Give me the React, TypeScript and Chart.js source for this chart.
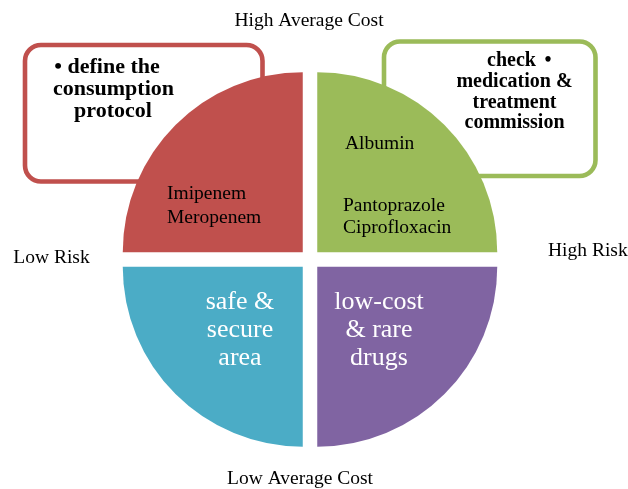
import React, { useEffect, useRef } from "react";
import { Chart, registerables } from "chart.js";

Chart.register(...registerables);

// ---- data ----
const quadrantNames = [
  "High Average Cost / High Risk",
  "Low Average Cost / High Risk",
  "Low Average Cost / Low Risk",
  "High Average Cost / Low Risk",
];
const quadrantValues = [1, 1, 1, 1];
const quadrantColors = ["#9BBB59", "#8064A2", "#4BACC6", "#C0504D"];

const axisTop = "High Average Cost";
const axisBottom = "Low Average Cost";
const axisLeft = "Low Risk";
const axisRight = "High Risk";

const redBoxLines = ["• define the", "consumption", "protocol"];
const greenBoxLines = ["medication &", "treatment", "commission"];
const greenBoxFirstWord = "check";
const topLeftItems = ["Imipenem", "Meropenem"];
const topRightFirst = ["Albumin"];
const topRightItems = ["Pantoprazole", "Ciprofloxacin"];
const bottomLeftLines = ["safe &", "secure", "area"];
const bottomRightLines = ["low-cost", "& rare", "drugs"];

const SERIF = '"Liberation Serif", "Times New Roman", Times, serif';

function roundRect(ctx: CanvasRenderingContext2D, x: number, y: number, w: number, h: number, r: number) {
  ctx.beginPath();
  ctx.moveTo(x + r, y);
  ctx.lineTo(x + w - r, y);
  ctx.arcTo(x + w, y, x + w, y + r, r);
  ctx.lineTo(x + w, y + h - r);
  ctx.arcTo(x + w, y + h, x + w - r, y + h, r);
  ctx.lineTo(x + r, y + h);
  ctx.arcTo(x, y + h, x, y + h - r, r);
  ctx.lineTo(x, y + r);
  ctx.arcTo(x, y, x + r, y, r);
  ctx.closePath();
}

const boxesPlugin = {
  id: "boxes",
  beforeDatasetsDraw(chart: any) {
    const ctx = chart.ctx as CanvasRenderingContext2D;
    const arc = chart.getDatasetMeta(0).data[0];
    const cx = arc.x, cy = arc.y;
    ctx.save();
    ctx.lineWidth = 4.6;
    // red box (top-left)
    ctx.strokeStyle = quadrantColors[3];
    ctx.fillStyle = "#ffffff";
    roundRect(ctx, cx - 285, cy - 214.5, 237.5, 136.5, 16);
    ctx.fill();
    ctx.stroke();
    // green box (top-right)
    ctx.strokeStyle = quadrantColors[0];
    roundRect(ctx, cx + 74, cy - 218, 211.5, 134.5, 16);
    ctx.fill();
    ctx.stroke();
    ctx.restore();
  },
};

const textPlugin = {
  id: "texts",
  afterDatasetsDraw(chart: any) {
    const ctx = chart.ctx as CanvasRenderingContext2D;
    const arc = chart.getDatasetMeta(0).data[0];
    const cx = arc.x, cy = arc.y;
    ctx.save();
    ctx.textBaseline = "alphabetic";

    // axis labels
    ctx.fillStyle = "#000000";
    ctx.font = `19.5px ${SERIF}`;
    ctx.textAlign = "center";
    ctx.fillText(axisTop, cx - 1, cy - 233.5);
    ctx.fillText(axisBottom, cx - 10, cy + 224.5);
    ctx.fillText(axisLeft, cx - 258.5, cy + 3.5);
    ctx.textAlign = "left";
    ctx.fillText(axisRight, cx + 238, cy - 3.5);

    // quadrant item labels
    ctx.textAlign = "left";
    topLeftItems.forEach((t, i) => ctx.fillText(t, cx - 143, cy - 60.5 + i * 24));
    topRightFirst.forEach((t, i) => ctx.fillText(t, cx + 35, cy - 110.5 + i * 24));
    topRightItems.forEach((t, i) => ctx.fillText(t, cx + 33, cy - 48.5 + i * 22));

    // big white labels
    ctx.fillStyle = "#ffffff";
    ctx.font = `26px ${SERIF}`;
    ctx.textAlign = "center";
    bottomLeftLines.forEach((t, i) => ctx.fillText(t, cx - 70, cy + 49.5 + i * 28));
    bottomRightLines.forEach((t, i) => ctx.fillText(t, cx + 69, cy + 49.5 + i * 28));

    // red box text
    ctx.fillStyle = "#000000";
    ctx.font = `bold 22px ${SERIF}`;
    ctx.textAlign = "center";
    ctx.fillText(redBoxLines[0], cx - 203, cy - 186.5);
    ctx.fillText(redBoxLines[1], cx - 196.5, cy - 164.5);
    ctx.fillText(redBoxLines[2], cx - 197, cy - 142.5);

    // green box text
    ctx.font = `bold 20px ${SERIF}`;
    ctx.textAlign = "left";
    ctx.fillText(greenBoxFirstWord, cx + 177, cy - 193.5);
    ctx.textAlign = "center";
    ctx.fillText("•", cx + 238, cy - 193.5);
    greenBoxLines.forEach((t, i) => ctx.fillText(t, cx + 204.5, cy - 172.5 + i * 20.5));
    ctx.restore();
  },
};

export default function App() {
  const ref = useRef<HTMLCanvasElement | null>(null);
  useEffect(() => {
    document.body.style.margin = "0";
    document.body.style.background = "#ffffff";
    const canvas = ref.current;
    if (!canvas) return;
    const chart = new Chart(canvas, {
      type: "pie",
      data: {
        labels: quadrantNames,
        datasets: [
          {
            data: quadrantValues,
            backgroundColor: quadrantColors,
            borderWidth: 0,
            offset: 41,
            hoverOffset: 0,
            radius: 180,
          } as any,
        ],
      },
      options: {
        responsive: false,
        animation: false,
        devicePixelRatio: 1,
        events: [],
        layout: { padding: { left: 0, right: 8, top: 30, bottom: 0 } },
        plugins: {
          legend: { display: false },
          tooltip: { enabled: false },
        },
      } as any,
      plugins: [boxesPlugin, textPlugin],
    });
    return () => chart.destroy();
  }, []);
  return (
    <div style={{ width: 628, height: 489, background: "#ffffff" }}>
      <canvas ref={ref} width={628} height={489} style={{ display: "block" }} />
    </div>
  );
}
